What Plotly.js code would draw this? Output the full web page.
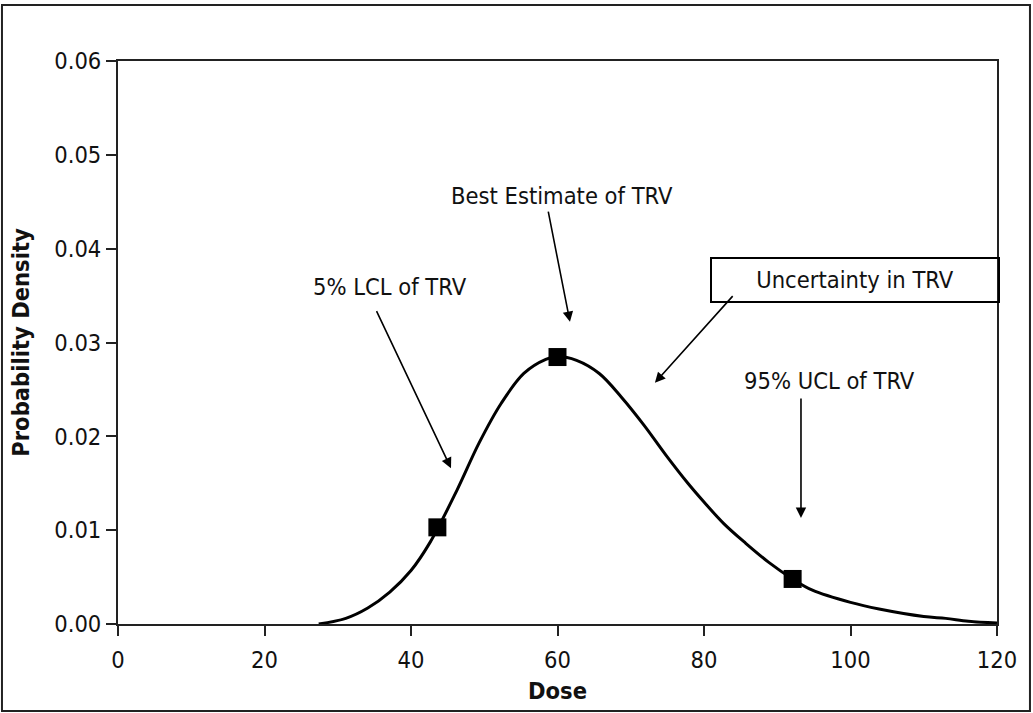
<!DOCTYPE html>
<html>
<head>
<meta charset="utf-8">
<script src="https://cdn.plot.ly/plotly-3.0.1.min.js"></script>
<style>html,body{margin:0;padding:0;background:#fff;}#chart{width:1033px;height:713px;}</style>
</head>
<body>
<div id="chart"></div>
<script>
// Probability density curve of the TRV
const dose = [27.4, 31.1, 34.1, 37.1, 40, 42.6, 46.3, 49.3, 52.3, 55.4, 58.4, 60, 62.6, 65.7, 68.7, 71.8, 74.8, 77.8, 80, 82.7, 85.7, 88.8, 92.1, 94.8, 100, 103.9, 110, 113, 116.1, 120];
const density = [0, 0.0006, 0.0017, 0.0034, 0.0057, 0.0087, 0.0143, 0.0193, 0.0235, 0.0267, 0.0282, 0.0285, 0.0281, 0.0267, 0.0242, 0.0212, 0.0180, 0.0150, 0.0130, 0.0107, 0.0086, 0.0066, 0.0048, 0.0036, 0.0023, 0.0016, 0.0008, 0.0006, 0.0003, 0.0001];

// Key points: 5% LCL, best estimate, 95% UCL
const pointDose = [43.6, 60, 92.1];
const pointDensity = [0.0103, 0.02845, 0.0048];

// Annotation labels
const labels = ["5% LCL of TRV", "Best Estimate of TRV", "Uncertainty in TRV", "95% UCL of TRV"];
const labelX = [37.1, 60.6, 100.6, 97.2];
const labelY = [0.0359, 0.0456, 0.0367, 0.0259];

// Arrows: tail -> head
const arrowTailX = [35.2, 58.7, 84.1, 93.24];
const arrowTailY = [0.0335, 0.0441, 0.0351, 0.0242];
const arrowHeadX = [45.46, 61.7, 73.3, 93.24];
const arrowHeadY = [0.0166, 0.0322, 0.0257, 0.0113];

const xTicks = [0, 20, 40, 60, 80, 100, 120];
const yTicks = [0, 0.01, 0.02, 0.03, 0.04, 0.05, 0.06];
const yTickText = ["0.00", "0.01", "0.02", "0.03", "0.04", "0.05", "0.06"];

const FONT = "'DejaVu Sans Condensed', 'DejaVu Sans', sans-serif";

const traces = [
  {x: dose, y: density, mode: 'lines', line: {color: '#000', width: 3, shape: 'spline', smoothing: 1}, hoverinfo: 'skip'},
  {x: pointDose, y: pointDensity, mode: 'markers', marker: {symbol: 'square', size: 18, color: '#000'}, hoverinfo: 'skip'}
];

const annotations = [];
for (let i = 0; i < arrowTailX.length; i++) {
  annotations.push({
    x: arrowHeadX[i], y: arrowHeadY[i], ax: arrowTailX[i], ay: arrowTailY[i],
    xref: 'x', yref: 'y', axref: 'x', ayref: 'y',
    text: '', showarrow: true, arrowhead: 2, arrowsize: 1.3, arrowwidth: 1.6, arrowcolor: '#000'
  });
}
for (let i = 0; i < labels.length; i++) {
  const a = {
    x: labelX[i], y: labelY[i], xref: 'x', yref: 'y', text: labels[i], showarrow: false,
    font: {family: FONT, size: 23.5, color: '#111'}
  };
  if (i === 2) {
    a.bordercolor = '#000'; a.borderwidth = 2; a.width = 284; a.height = 40; a.bgcolor = 'rgba(0,0,0,0)';
  }
  annotations.push(a);
}

const layout = {
  width: 1033, height: 713,
  margin: {l: 118, r: 36, t: 61, b: 89},
  paper_bgcolor: '#fff', plot_bgcolor: '#fff',
  showlegend: false,
  font: {family: FONT, color: '#111'},
  xaxis: {
    range: [0, 120], tickvals: xTicks, ticks: 'outside', ticklen: 10, tickwidth: 2, tickcolor: '#222',
    showgrid: false, zeroline: false, showline: true, linecolor: '#222', linewidth: 2, mirror: true,
    tickfont: {family: FONT, size: 23.5, color: '#111'}, ticklabelstandoff: 4,
    title: {text: '<b>Dose</b>', font: {family: FONT, size: 23.5, color: '#111'}, standoff: 9}
  },
  yaxis: {
    range: [0, 0.06], tickvals: yTicks, ticktext: yTickText, ticks: 'outside', ticklen: 10, tickwidth: 2, tickcolor: '#222',
    showgrid: false, zeroline: false, showline: true, linecolor: '#222', linewidth: 2, mirror: true,
    tickfont: {family: FONT, size: 23.5, color: '#111'},
    title: {text: '<b>Probability Density</b>', font: {family: FONT, size: 23.5, color: '#111'}, standoff: 18}
  },
  annotations: annotations,
  shapes: [
    {type: 'rect', xref: 'paper', yref: 'paper', x0: -0.132, x1: 1.0375, y0: -0.1545, y1: 1.0995,
     line: {color: '#222', width: 2}, fillcolor: 'rgba(0,0,0,0)', layer: 'below'}
  ]
};

Plotly.newPlot('chart', traces, layout, {displayModeBar: false, staticPlot: true});
</script>
</body>
</html>
